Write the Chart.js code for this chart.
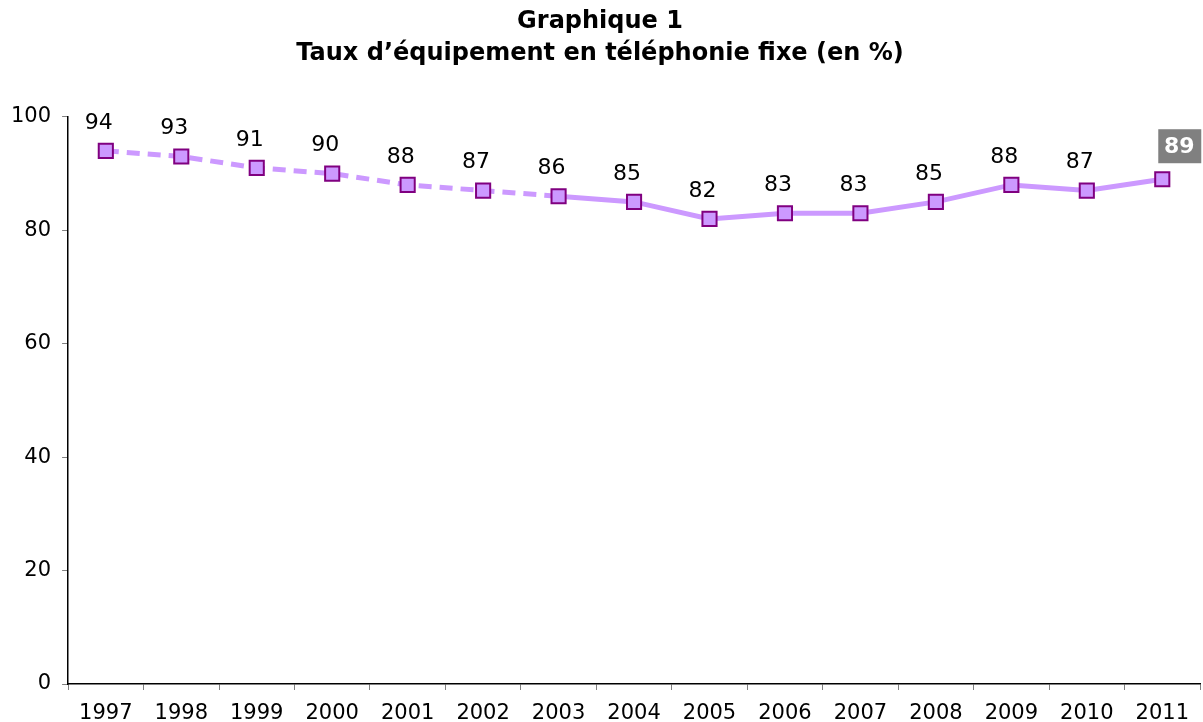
<!DOCTYPE html>
<html>
<head>
<meta charset="utf-8">
<script src="https://cdn.jsdelivr.net/npm/chart.js@4"></script>
<style>
  html, body { margin: 0; padding: 0; background: #fff; }
  canvas { display: block; }
</style>
</head>
<body>
<canvas id="myChart" width="1203" height="722"></canvas>
<script>
// Années et taux d'équipement
const years = ['1997', '1998', '1999', '2000', '2001', '2002', '2003', '2004', '2005', '2006', '2007', '2008', '2009', '2010', '2011'];
const rates = [94, 93, 91, 90, 88, 87, 86, 85, 82, 83, 83, 85, 88, 87, 89];
const yTicks = [0, 20, 40, 60, 80, 100];
const lastDashedIndex = 6; // pointillés jusqu'à 2003

const FONT = "'DejaVu Sans', Verdana, sans-serif";

// étiquettes de valeur au-dessus des points
const valueLabels = {
    id: 'valueLabels',
    afterDatasetsDraw(chart) {
        const {ctx, data} = chart;
        const meta = chart.getDatasetMeta(0);
        ctx.save();
        ctx.textAlign = 'center';
        ctx.textBaseline = 'middle';
        meta.data.forEach((pt, i) => {
            const v = data.datasets[0].data[i];
            if (i === meta.data.length - 1) {
                // dernière valeur dans un cadre gris
                const cx = pt.x + 17, cy = pt.y - 33;
                ctx.fillStyle = '#808080';
                ctx.fillRect(cx - 21, cy - 17, 43, 34);
                ctx.font = 'bold 22px ' + FONT;
                ctx.fillStyle = '#ffffff';
                ctx.fillText(v, cx, cy + 1);
            } else {
                ctx.font = '22px ' + FONT;
                ctx.fillStyle = '#000000';
                ctx.fillText(v, pt.x - 7, pt.y - 28);
            }
        });
        ctx.restore();
    }
};

const myChart = new Chart(document.getElementById('myChart'), {
    type: 'line',
    data: {
        labels: years,
        datasets: [{
            data: rates,
            borderColor: '#cc99ff',
            borderWidth: 5,
            backgroundColor: '#cc99ff',
            pointStyle: 'rect',
            pointRadius: 10,
            pointBorderWidth: 2,
            pointBorderColor: '#800080',
            pointBackgroundColor: '#cc99ff',
            tension: 0,
            segment: {
                borderDash: (c) => c.p1DataIndex <= lastDashedIndex ? [13, 8] : undefined
            }
        }]
    },
    options: {
        responsive: false,
        animation: false,
        layout: {
            autoPadding: false,
            padding: { left: 0, right: 3, top: 0, bottom: 0 }
        },
        plugins: {
            legend: { display: false },
            tooltip: { enabled: false },
            title: {
                display: true,
                text: ['Graphique 1', 'Taux d\u2019équipement en téléphonie fixe (en %)'],
                color: '#000',
                font: { family: FONT, size: 24, weight: 'bold', lineHeight: 1.33 },
                padding: { top: 6, bottom: 47 }
            }
        },
        scales: {
            x: {
                offset: true,
                afterFit: (axis) => { axis.height = 38; },
                grid: {
                    offset: true,
                    drawOnChartArea: false,
                    color: '#808080',
                    tickLength: 6
                },
                border: { color: '#000', width: 1.5 },
                ticks: {
                    color: '#000',
                    padding: 13,
                    maxRotation: 0,
                    autoSkip: false,
                    font: { family: FONT, size: 21, lineHeight: 1 }
                }
            },
            y: {
                min: 0,
                max: 100,
                afterBuildTicks: (axis) => { axis.ticks = yTicks.map(v => ({value: v})); },
                grid: {
                    drawOnChartArea: false,
                    color: '#808080',
                    tickLength: 6
                },
                border: { color: '#000', width: 1.5 },
                ticks: {
                    color: '#000',
                    padding: 11,
                    font: { family: FONT, size: 21 }
                }
            }
        }
    },
    plugins: [valueLabels]
});
</script>
</body>
</html>
